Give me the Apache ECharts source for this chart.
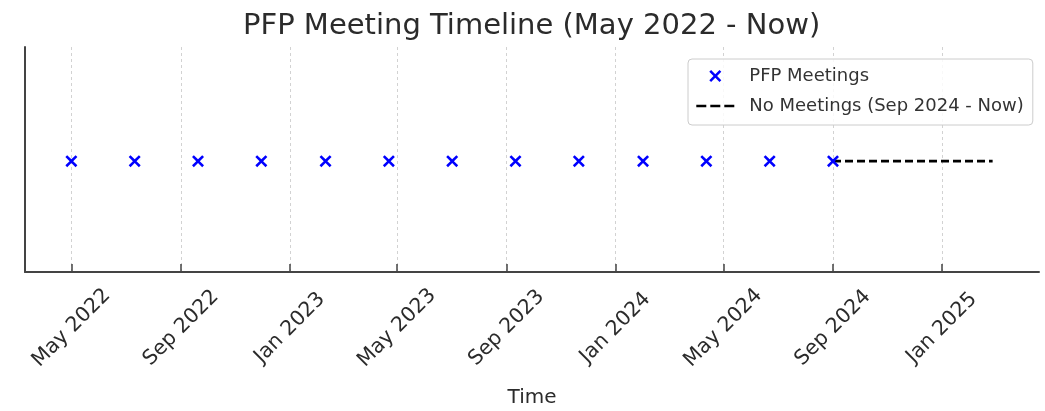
<!DOCTYPE html>
<html>
<head>
<meta charset="utf-8">
<script src="https://cdn.jsdelivr.net/npm/echarts@6/dist/echarts.min.js"></script>
<style>
html,body{margin:0;padding:0;background:#fff;}
#chart{width:1045px;height:411px;}
</style>
</head>
<body>
<div id="chart"></div>
<script>
// ---- data ----
const meetingDates = [
  '2022-05-01','2022-07-11','2022-09-20','2022-11-30','2023-02-10','2023-04-22',
  '2023-07-02','2023-09-11','2023-11-21','2024-02-01','2024-04-12','2024-06-22','2024-09-01'
];
const meetingValues = [1,1,1,1,1,1,1,1,1,1,1,1,1];
const gapDates = ['2024-09-01','2025-02-27'];
const gapValues = [1,1];
const tickDates = ['2022-05-01','2022-09-01','2023-01-01','2023-05-01','2023-09-01',
                   '2024-01-01','2024-05-01','2024-09-01','2025-01-01'];
const monthNames = ['Jan','Feb','Mar','Apr','May','Jun','Jul','Aug','Sep','Oct','Nov','Dec'];
const axisStart = '2022-03-10';
const axisEnd = '2025-04-20';

const t = s => new Date(s + 'T00:00:00').getTime();
const FONT = 'DejaVu Sans';
const xPath = 'path://M0,1.5L1.5,0L5,3.5L8.5,0L10,1.5L6.5,5L10,8.5L8.5,10L5,6.5L1.5,10L0,8.5L3.5,5Z';

const chart = echarts.init(document.getElementById('chart'), null, {renderer:'canvas'});
chart.setOption({
  animation: false,
  backgroundColor: '#ffffff',
  title: {
    text: 'PFP Meeting Timeline (May 2022 - Now)',
    left: 243, top: 11, padding: 0,
    textStyle: {fontFamily: FONT, fontSize: 29, fontWeight: 'normal', color: '#2b2b2b', lineHeight: 30}
  },
  legend: {
    orient: 'vertical', left: 688, top: 59,
    padding: [8, 9, 10, 7], itemGap: 12, itemWidth: 38, itemHeight: 12,
    borderColor: '#cccccc', borderWidth: 1, borderRadius: 4,
    backgroundColor: 'rgba(255,255,255,0.85)',
    textStyle: {fontFamily: FONT, fontSize: 18, color: '#333', padding: [0,0,0,10]},
    data: [
      {name: 'PFP Meetings', icon: xPath},
      {name: 'No Meetings (Sep 2024 - Now)', itemStyle: {opacity: 0},
       lineStyle: {color: '#000', width: 2.6, type: [10, 4], opacity: 1}}
    ]
  },
  grid: {left: 25, right: 6, top: 47, bottom: 139, containLabel: false, outerBoundsMode: 'none'},
  xAxis: {
    type: 'value',
    min: t(axisStart), max: t(axisEnd),
    name: 'Time', nameLocation: 'middle', nameGap: 116,
    nameTextStyle: {fontFamily: FONT, fontSize: 20, color: '#2b2b2b'},
    axisLine: {show: true, onZero: false, lineStyle: {color: '#444', width: 2}},
    axisTick: {show: true, inside: true, length: 8, lineStyle: {color: '#444', width: 1.5},
               customValues: tickDates.map(t)},
    axisLabel: {
      customValues: tickDates.map(t),
      rotate: 45, align: 'center', verticalAlign: 'middle', margin: 56,
      fontFamily: FONT, fontSize: 20.5, color: '#2b2b2b',
      formatter: v => { const d = new Date(v); return monthNames[d.getMonth()] + ' ' + d.getFullYear(); }
    },
    splitLine: {show: true, lineStyle: {color: '#d2d2d2', width: 1, type: [3, 3]}}
  },
  yAxis: {
    type: 'value', min: 0.9, max: 1.103,
    axisLine: {show: true, onZero: false, lineStyle: {color: '#444', width: 2}},
    axisTick: {show: false}, axisLabel: {show: false}, splitLine: {show: false}
  },
  series: [
    {
      name: 'No Meetings (Sep 2024 - Now)', type: 'line', z: 2,
      symbol: 'none',
      lineStyle: {color: '#000', width: 2.6, type: [8, 4]},
      itemStyle: {color: '#000'},
      data: gapDates.map((d, i) => [t(d), gapValues[i]])
    },
    {
      name: 'PFP Meetings', type: 'scatter', z: 3,
      symbol: xPath, symbolSize: 12,
      itemStyle: {color: '#0000ff', opacity: 1},
      data: meetingDates.map((d, i) => [t(d), meetingValues[i]])
    }
  ]
});
</script>
</body>
</html>
